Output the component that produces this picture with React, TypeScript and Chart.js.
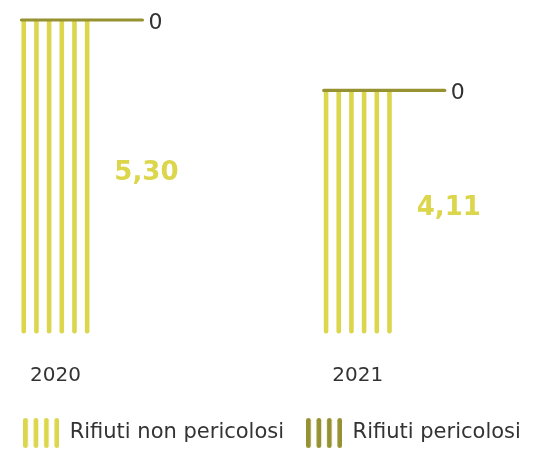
import React, { useEffect, useRef } from "react";
import { Chart, registerables } from "chart.js";

Chart.register(...registerables);

// ---- data ----
const years = [2020, 2021];
const nonPericolosi = [5.3, 4.11];
const pericolosi = [0, 0];
const seriesLabels = ["Rifiuti non pericolosi", "Rifiuti pericolosi"];

// ---- styles ----
const YELLOW = "#dbd64c";
const OLIVE = "#969131";
const TEXT = "#333333";
const FONT = "'DejaVu Sans', sans-serif";

function fmt(v: number): string {
  return v === 0 ? "0" : v.toFixed(2).replace(".", ",");
}

function makeIcon(color: string): HTMLCanvasElement {
  const c = document.createElement("canvas");
  c.width = 36;
  c.height = 30;
  const ctx = c.getContext("2d")!;
  const sw = 4.7;
  const r = sw / 2;
  const pitch = (36 - sw) / 3;
  ctx.strokeStyle = color;
  ctx.lineWidth = sw;
  ctx.lineCap = "round";
  for (let k = 0; k < 4; k++) {
    const cx = r + k * pitch;
    ctx.beginPath();
    ctx.moveTo(cx, r);
    ctx.lineTo(cx, 30 - r);
    ctx.stroke();
  }
  return c;
}

const LINE_LEN = 121;

const stripesPlugin = {
  id: "stripes",
  afterDatasetsDraw(chart: any) {
    const ctx = chart.ctx as CanvasRenderingContext2D;
    const m0 = chart.getDatasetMeta(0);
    const m1 = chart.getDatasetMeta(1);
    ctx.save();
    m0.data.forEach((el: any, i: number) => {
      const { x, y, base, width } = el.getProps(["x", "y", "base", "width"], true);
      const left = x - width / 2;
      const sw = 4.6;
      const r = sw / 2;
      const n = 6;
      const pitch = (width - sw) / (n - 1);
      ctx.fillStyle = YELLOW;
      for (let k = 0; k < n; k++) {
        const cx = left + r + k * pitch;
        ctx.beginPath();
        ctx.moveTo(cx - r, y);
        ctx.lineTo(cx + r, y);
        ctx.lineTo(cx + r, base - r);
        ctx.arc(cx, base - r, r, 0, Math.PI);
        ctx.closePath();
        ctx.fill();
      }
      ctx.font = `bold 26px ${FONT}`;
      ctx.textAlign = "center";
      ctx.textBaseline = "middle";
      ctx.fillText(fmt(nonPericolosi[i]), left + LINE_LEN + 4, (y + base) / 2 - 4);
    });
    m1.data.forEach((el: any, i: number) => {
      const { x, y, width } = el.getProps(["x", "y", "width"], true);
      const left = x - width / 2;
      ctx.strokeStyle = OLIVE;
      ctx.lineWidth = 3.2;
      ctx.lineCap = "round";
      ctx.beginPath();
      ctx.moveTo(left, y);
      ctx.lineTo(left + LINE_LEN, y);
      ctx.stroke();
      ctx.fillStyle = TEXT;
      ctx.font = `22px ${FONT}`;
      ctx.textAlign = "left";
      ctx.textBaseline = "middle";
      ctx.fillText(fmt(pericolosi[i]), left + LINE_LEN + 6, y + 3);
    });
    ctx.restore();
  },
};

export default function App() {
  const ref = useRef<HTMLCanvasElement | null>(null);

  useEffect(() => {
    document.body.style.margin = "0";
    const canvas = ref.current!;
    const icon1 = makeIcon(YELLOW);
    const icon2 = makeIcon(OLIVE);
    const yMax = Math.max(...years.map((_, i) => nonPericolosi[i] + pericolosi[i]));
    const chart = new Chart(canvas, {
      type: "bar",
      data: {
        labels: years as any,
        datasets: [
          {
            label: seriesLabels[0],
            data: nonPericolosi,
            backgroundColor: "rgba(0,0,0,0)",
            borderWidth: 0,
            barThickness: 68,
            pointStyle: icon1 as any,
          },
          {
            label: seriesLabels[1],
            data: pericolosi,
            backgroundColor: "rgba(0,0,0,0)",
            borderWidth: 0,
            barThickness: 68,
            pointStyle: icon2 as any,
          },
        ],
      },
      options: {
        animation: false,
        responsive: false,
        events: [],
        layout: { padding: { top: 20, bottom: -4.5, left: 0, right: 0 } },
        scales: {
          x: {
            type: "linear",
            stacked: true,
            offset: false,
            min: 2019.8194,
            max: 2021.616,
            grid: { display: false, drawTicks: false },
            border: { display: false },
            ticks: {
              padding: 30,
              color: TEXT,
              maxRotation: 0,
              font: { family: FONT, size: 20 },
              callback: (v: any) => String(v),
            },
            afterBuildTicks: (s: any) => {
              s.ticks = years.map((v) => ({ value: v }));
            },
            afterFit: (s: any) => {
              s.height = 67;
            },
          } as any,
          y: {
            display: false,
            stacked: true,
            min: 0,
            max: yMax,
          },
        },
        plugins: {
          tooltip: { enabled: false },
          legend: {
            position: "bottom",
            labels: {
              usePointStyle: true,
              pointStyleWidth: 36,
              padding: 22,
              color: TEXT,
              font: { family: FONT, size: 21 },
            },
          },
        },
      },
      plugins: [stripesPlugin],
    });
    return () => chart.destroy();
  }, []);

  return (
    <div style={{ width: 544, height: 449 }}>
      <canvas ref={ref} width={544} height={449} style={{ display: "block" }} />
    </div>
  );
}
